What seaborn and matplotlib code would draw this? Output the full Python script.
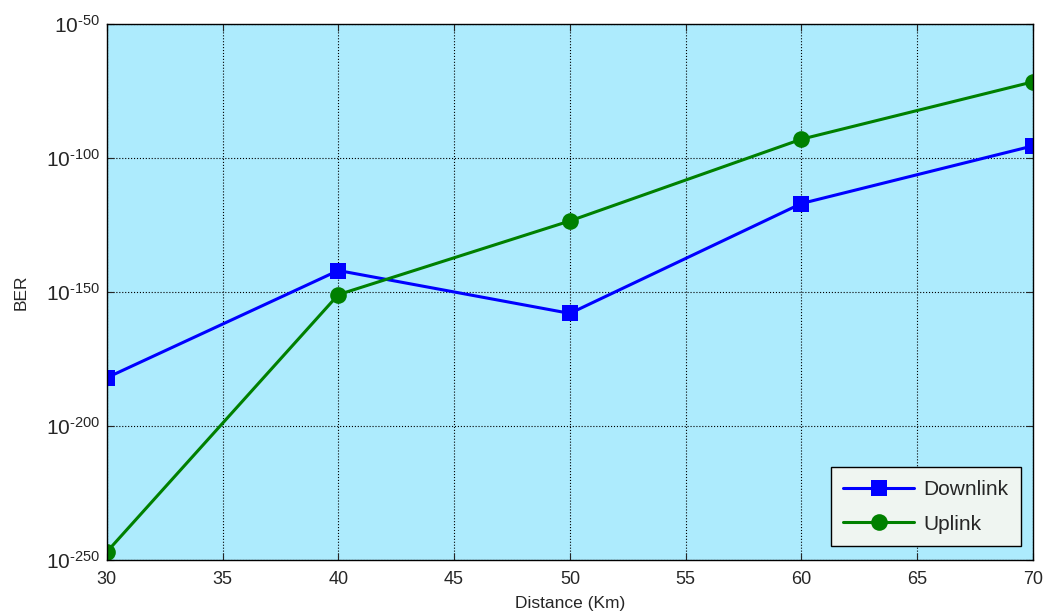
import matplotlib
matplotlib.use('Agg')
import matplotlib.pyplot as plt
import seaborn as sns
import numpy as np
import pandas as pd

# data (exponents of BER)
distance = [30, 40, 50, 60, 70]
downlink_exp = [-182, -142, -158, -117, -95.5]
uplink_exp = [-247, -151, -123.5, -93, -71.6]
ytick_exp = [-250, -200, -150, -100, -50]

sns.set_theme(style='white')
plt.rcParams['font.family'] = ['Liberation Sans', 'DejaVu Sans']
plt.rcParams['mathtext.fontset'] = 'custom'
plt.rcParams['mathtext.rm'] = 'Liberation Sans'
plt.rcParams['mathtext.it'] = 'Liberation Sans'

df = pd.DataFrame({
    'Distance': distance * 2,
    'BER': [10.0 ** e for e in downlink_exp] + [10.0 ** e for e in uplink_exp],
    'Link': ['Downlink'] * len(distance) + ['Uplink'] * len(distance),
})

fig = plt.figure(figsize=(10.47, 6.14), dpi=100)
ax = fig.add_axes([0.102, 0.088, 0.8846, 0.873])
ax.set_facecolor('#ADEBFD')

sns.lineplot(data=df, x='Distance', y='BER', hue='Link', style='Link',
             palette={'Downlink': '#0000FF', 'Uplink': '#008000'},
             markers={'Downlink': 's', 'Uplink': 'o'}, dashes=False,
             markersize=12, linewidth=2.2, markeredgewidth=0, ax=ax)

ax.set_yscale('log')
ax.set_xlim(30, 70)
ax.set_ylim(1e-250, 1e-50)
ax.set_yticks([10.0 ** e for e in ytick_exp])
ax.set_yticklabels([r'10$^{\text{%d}}$' % e for e in ytick_exp])
ax.yaxis.set_minor_locator(matplotlib.ticker.NullLocator())
ax.set_xticks(np.arange(30, 71, 5))
ax.tick_params(axis='both', labelsize=13, direction='in', length=5, width=0.8,
               top=True, right=True, bottom=True, left=True, pad=8)
ax.tick_params(axis='y', labelsize=15, pad=5)

ax.grid(True, which='major', color='black', linestyle=':', linewidth=0.8)
for s in ax.spines.values():
    s.set_color('black')
    s.set_linewidth(1.0)

ax.set_xlabel('Distance (Km)', fontsize=12.5, labelpad=6)
ax.set_ylabel('BER', fontsize=12.5, labelpad=12)

leg = ax.legend(loc='lower right', fontsize=15, frameon=True, fancybox=False,
                edgecolor='black', facecolor='#EFF5F1', framealpha=1,
                handlelength=3.4, handletextpad=0.45, borderpad=0.6,
                labelspacing=0.75, borderaxespad=0,
                bbox_to_anchor=(0.987, 0.026))
leg.get_frame().set_linewidth(1.0)

fig.savefig('out.png', dpi=100)
